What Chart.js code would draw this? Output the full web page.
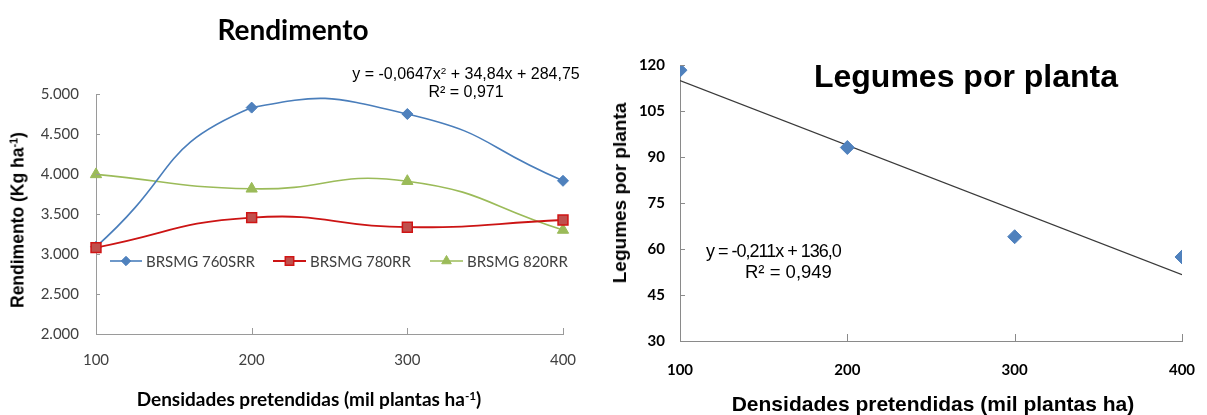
<!DOCTYPE html>
<html>
<head>
<meta charset="utf-8">
<script src="https://cdn.jsdelivr.net/npm/chart.js@4.4.1/dist/chart.umd.min.js"></script>
<style>
  html, body { margin: 0; padding: 0; background: #fff; }
  #wrap { position: relative; width: 1207px; height: 415px; overflow: hidden; background: #fff; }
  .cv { position: absolute; top: 0; }
  .t { position: absolute; white-space: nowrap; line-height: 1; transform: translate(-50%, -50%); color: #000; }
  .tl { position: absolute; white-space: nowrap; line-height: 1; transform: translate(0, -50%); color: #000; }
  .rot { position: absolute; white-space: nowrap; line-height: 1; transform: translate(-50%, -50%) rotate(-90deg); color: #000; }
  sup { font-size: 0.62em; vertical-align: 0; position: relative; top: -0.55em; }
</style>
</head>
<body>
<div id="wrap">
  <div class="cv" style="left:0;width:600px;height:415px;"><canvas id="c1" width="600" height="415"></canvas></div>
  <div class="cv" style="left:600px;width:607px;height:415px;"><canvas id="c2" width="607" height="415"></canvas></div>

  <div class="t" style="left:293px;top:29px;font:700 28px Lato, 'Open Sans', sans-serif;">Rendimento</div>
  <div class="rot" style="left:18px;top:220px;font:700 17.5px 'Liberation Sans', Arial, sans-serif;">Rendimento (Kg ha<sup>-1</sup>)</div>
  <div class="t" style="left:309px;top:398px;font:700 19px Lato, 'Open Sans', sans-serif;">Densidades pretendidas (mil plantas ha<sup>-1</sup>)</div>
  <div class="t" style="left:466px;top:74px;font:400 16px 'Liberation Sans', Arial, sans-serif;">y = -0,0647x<sup>2</sup> + 34,84x + 284,75</div>
  <div class="t" style="left:466px;top:92px;font:400 16px 'Liberation Sans', Arial, sans-serif;">R² = 0,971</div>

  <div class="t" style="left:966px;top:76px;font:700 32px 'Liberation Sans', Arial, sans-serif;">Legumes por planta</div>
  <div class="rot" style="left:620px;top:193px;font:700 19px 'Liberation Sans', Arial, sans-serif;">Legumes por planta</div>
  <div class="t" style="left:933px;top:404px;font:700 21px 'Liberation Sans', Arial, sans-serif;">Densidades pretendidas (mil plantas ha)</div>
  <div class="tl" style="left:706px;top:251px;font:400 18px 'Liberation Sans', Arial, sans-serif;letter-spacing:-1px;">y = -0,211x + 136,0</div>
  <div class="tl" style="left:745px;top:272px;font:400 18.5px 'Liberation Sans', Arial, sans-serif;">R² = 0,949</div>
</div>
<script>
// ---- Data ----
const categories = ['100', '200', '300', '400'];
const seriesNames = ['BRSMG 760SRR', 'BRSMG 780RR', 'BRSMG 820RR'];
const rend760 = [3090, 4830, 4750, 3915];
const rend780 = [3080, 3455, 3335, 3425];
const rend820 = [3995, 3815, 3910, 3300];
const rendTicks = [2000, 2500, 3000, 3500, 4000, 4500, 5000];

const legDens = [100, 200, 300, 400];
const legumes = [118.3, 93.1, 64.0, 57.4];
const trendX = [100, 400];
const trendY = [114.9, 51.6];
const legTicks = [30, 45, 60, 75, 90, 105, 120];

// ---- Plugins ----
const innerTicks = {
  id: 'innerTicks',
  afterDatasetsDraw(chart, args, opts) {
    const ctx = chart.ctx;
    const xs = chart.scales.x, ys = chart.scales.y;
    const a = chart.chartArea;
    ctx.save();
    ctx.strokeStyle = opts.color || '#868686';
    ctx.lineWidth = 1;
    ctx.beginPath();
    xs.ticks.forEach((t, i) => {
      const px = Math.round(xs.getPixelForTick(i)) + 0.5;
      ctx.moveTo(px, a.bottom);
      ctx.lineTo(px, a.bottom - (opts.xLen || 6));
    });
    ys.ticks.forEach((t, i) => {
      const py = Math.round(ys.getPixelForTick(i)) + 0.5;
      ctx.moveTo(a.left, py);
      ctx.lineTo(a.left + (opts.yLen || 4), py);
    });
    ctx.stroke();
    ctx.restore();
  }
};

const inlineLegend = {
  id: 'inlineLegend',
  afterDraw(chart, args, opts) {
    if (!opts.items) return;
    const ctx = chart.ctx;
    ctx.save();
    opts.items.forEach((it, i) => {
      const ds = chart.data.datasets[i];
      ctx.strokeStyle = ds.borderColor;
      ctx.lineWidth = ds.borderWidth;
      ctx.beginPath();
      ctx.moveTo(it.x0, opts.y);
      ctx.lineTo(it.x1, opts.y);
      ctx.stroke();
      ctx.fillStyle = ds.pointBackgroundColor;
      ctx.strokeStyle = ds.pointBorderColor;
      ctx.lineWidth = ds.pointBorderWidth;
      Chart.helpers.drawPoint(ctx, {
        pointStyle: ds.pointStyle, radius: ds.pointRadius * 0.85, rotation: 0,
        borderWidth: ds.pointBorderWidth
      }, (it.x0 + it.x1) / 2, opts.y);
      ctx.fillStyle = '#404040';
      ctx.font = opts.font;
      ctx.textBaseline = 'middle';
      ctx.textAlign = 'left';
      ctx.fillText(ds.label, it.tx, opts.y + 1);
    });
    ctx.restore();
  }
};

function fmtThousands(v) {
  const s = String(Math.round(v));
  return s.length > 3 ? s.slice(0, s.length - 3) + '.' + s.slice(s.length - 3) : s;
}

// ---- Left chart: Rendimento ----
new Chart(document.getElementById('c1'), {
  type: 'line',
  data: {
    labels: categories,
    datasets: [
      {
        label: seriesNames[0], data: rend760, order: 1,
        borderColor: '#4A7EBB', borderWidth: 1.6, tension: 0.55,
        pointStyle: 'rectRot', pointRadius: 5.5, pointBackgroundColor: '#4F81BD',
        pointBorderColor: '#4A7EBB', pointBorderWidth: 1
      },
      {
        label: seriesNames[1], data: rend780, order: 0,
        borderColor: '#CC1414', borderWidth: 1.8, tension: 0.5,
        pointStyle: 'rect', pointRadius: 7, pointBackgroundColor: '#C0504D',
        pointBorderColor: '#D01515', pointBorderWidth: 1.5
      },
      {
        label: seriesNames[2], data: rend820, order: 2,
        borderColor: '#9BBB59', borderWidth: 1.6, tension: 0.5,
        pointStyle: 'triangle', pointRadius: 6.5, pointBackgroundColor: '#9BBB59',
        pointBorderColor: '#9BBB59', pointBorderWidth: 1
      }
    ]
  },
  options: {
    responsive: false, animation: false, devicePixelRatio: 1,
    layout: { padding: { top: 94, right: 37, bottom: 0, left: 0 } },
    plugins: {
      legend: { display: false }, tooltip: { enabled: false }, title: { display: false },
      innerTicks: { color: '#9a9a9a', xLen: 6, yLen: 4 },
      inlineLegend: {
        y: 261, font: '15px Lato, "Open Sans", sans-serif',
        items: [
          { x0: 110, x1: 142, tx: 146 },
          { x0: 273, x1: 306, tx: 310 },
          { x0: 430, x1: 463, tx: 467 }
        ]
      }
    },
    scales: {
      x: {
        type: 'category', offset: false,
        grid: { display: false, drawTicks: false },
        border: { display: true, color: '#9a9a9a', width: 1 },
        ticks: { padding: 17, color: '#404040', font: { family: 'Lato', size: 15 }, maxRotation: 0 },
        afterFit(s) { s.height = 81; s.paddingLeft = 0; s.paddingRight = 0; }
      },
      y: {
        min: 2000, max: 5000,
        afterBuildTicks(s) { s.ticks = rendTicks.map(v => ({ value: v })); },
        grid: { display: false, drawTicks: false },
        border: { display: true, color: '#9a9a9a', width: 1 },
        ticks: { padding: 17, color: '#404040', font: { family: 'Lato', size: 15 }, callback: v => fmtThousands(v) },
        afterFit(s) { s.width = 96; }
      }
    }
  },
  plugins: [innerTicks, inlineLegend]
});

// ---- Right chart: Legumes por planta ----
new Chart(document.getElementById('c2'), {
  type: 'scatter',
  data: {
    datasets: [
      {
        label: 'Legumes por planta', order: 0,
        data: legDens.map((x, i) => ({ x: x, y: legumes[i] })),
        pointStyle: 'rectRot', pointRadius: 7, pointBackgroundColor: '#4F81BD',
        pointBorderColor: '#4F81BD', pointBorderWidth: 1, showLine: false
      },
      {
        label: 'Linear', order: 1, type: 'line',
        data: trendX.map((x, i) => ({ x: x, y: trendY[i] })),
        borderColor: '#3a3a3a', borderWidth: 1.2, pointRadius: 0, tension: 0
      }
    ]
  },
  options: {
    responsive: false, animation: false, devicePixelRatio: 1,
    layout: { padding: { top: 65, right: 25, bottom: 0, left: 0 } },
    plugins: {
      legend: { display: false }, tooltip: { enabled: false }, title: { display: false },
      innerTicks: { color: '#8a8a8a', xLen: 7, yLen: 5 }
    },
    scales: {
      x: {
        type: 'linear', min: 100, max: 400,
        afterBuildTicks(s) { s.ticks = legDens.map(v => ({ value: v })); },
        grid: { display: false, drawTicks: false },
        border: { display: true, color: '#8a8a8a', width: 1 },
        ticks: { padding: 20, color: '#000', font: { family: 'Lato', size: 15, weight: 'bold' }, maxRotation: 0 },
        afterFit(s) { s.height = 74; s.paddingLeft = 0; s.paddingRight = 0; }
      },
      y: {
        min: 30, max: 120,
        afterBuildTicks(s) { s.ticks = legTicks.map(v => ({ value: v })); },
        grid: { display: false, drawTicks: false },
        border: { display: true, color: '#8a8a8a', width: 1 },
        ticks: { padding: 15, color: '#000', font: { family: 'Lato', size: 15, weight: 'bold' } },
        afterFit(s) { s.width = 80; }
      }
    }
  },
  plugins: [innerTicks]
});
</script>
</body>
</html>
